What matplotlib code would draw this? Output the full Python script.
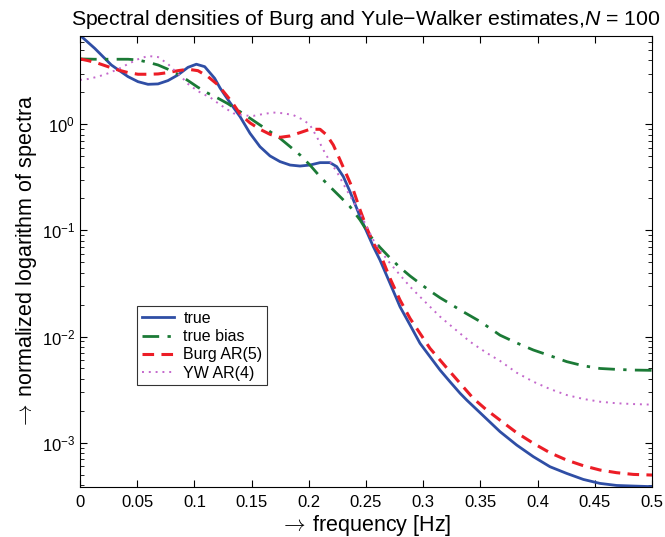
import matplotlib
matplotlib.use('Agg')
import matplotlib.pyplot as plt
from matplotlib.ticker import FixedLocator, FormatStrFormatter, LogLocator

plt.rcParams['font.family'] = ['Liberation Sans', 'DejaVu Sans']
plt.rcParams['mathtext.fontset'] = 'custom'
plt.rcParams['mathtext.rm'] = 'Liberation Sans'
plt.rcParams['mathtext.it'] = 'Liberation Sans:italic'

# Values.
x_true = [0.0, 0.0128, 0.0274, 0.042, 0.0507, 0.0594, 0.0682, 0.0769, 0.0857, 0.0944,
          0.1017, 0.109, 0.1177, 0.1224, 0.1265, 0.1311, 0.1399, 0.1486, 0.1573, 0.1661,
          0.1748, 0.1836, 0.1923, 0.201, 0.2098, 0.2185, 0.2244, 0.2302, 0.236, 0.2448,
          0.2506, 0.2564, 0.2622, 0.271, 0.2797, 0.2885, 0.2972, 0.3059, 0.3147, 0.3234,
          0.3322, 0.338, 0.35, 0.3671, 0.3817, 0.3963, 0.4108, 0.4254, 0.44, 0.4545,
          0.4691, 0.4837, 0.5]
y_true = [6.9, 5.2, 3.62, 2.81, 2.52, 2.38, 2.40, 2.58, 2.92, 3.44,
          3.68, 3.49, 2.71, 2.2, 1.89, 1.6, 1.18, 0.822, 0.615, 0.503,
          0.445, 0.413, 0.404, 0.413, 0.435, 0.435, 0.399, 0.321, 0.232, 0.135,
          0.0973, 0.0703, 0.0526, 0.0317, 0.0191, 0.01284, 0.00863, 0.00646, 0.00483, 0.00375,
          0.00292, 0.00252, 0.0019, 0.00127, 9.49e-4, 7.37e-4, 5.93e-4, 5.13e-4, 4.5e-4, 4.13e-4,
          3.95e-4, 3.9e-4, 3.85e-4]

x_bias = [0.0, 0.0128, 0.0274, 0.042, 0.0507, 0.0594, 0.0682, 0.0769, 0.0857, 0.0944,
          0.1031, 0.1119, 0.1206, 0.1294, 0.1399, 0.1486, 0.1573, 0.1661, 0.1748, 0.1836,
          0.1923, 0.201, 0.2098, 0.2185, 0.2273, 0.236, 0.2448, 0.2535, 0.2622, 0.271,
          0.2797, 0.2885, 0.2972, 0.3059, 0.3147, 0.3234, 0.3322, 0.35, 0.3671, 0.3817,
          0.3963, 0.4108, 0.4254, 0.44, 0.4545, 0.4691, 0.4837, 0.5]
y_bias = [4.13, 4.1, 4.1, 4.1, 4.04, 3.84, 3.62, 3.30, 2.96, 2.58,
          2.23, 1.96, 1.76, 1.56, 1.315, 1.14, 0.985, 0.852, 0.738, 0.616,
          0.514, 0.413, 0.321, 0.258, 0.208, 0.1675, 0.1253, 0.089, 0.0692, 0.055,
          0.0447, 0.0372, 0.0316, 0.0269, 0.0232, 0.0204, 0.0178, 0.0138, 0.0103, 0.0087,
          0.00746, 0.0066, 0.0058, 0.0053, 0.005, 0.0049, 0.00483, 0.0048]

x_burg = [0.0, 0.007, 0.0157, 0.0245, 0.0332, 0.042, 0.0507, 0.0594, 0.0682, 0.0769,
          0.0857, 0.0944, 0.1031, 0.1119, 0.1206, 0.1294, 0.134, 0.1399, 0.1486, 0.1573,
          0.1661, 0.1748, 0.1836, 0.1923, 0.201, 0.2098, 0.2156, 0.2214, 0.2273, 0.2331,
          0.2389, 0.2448, 0.2506, 0.2564, 0.2622, 0.271, 0.2797, 0.2885, 0.2972, 0.3059,
          0.3147, 0.3234, 0.3322, 0.3438, 0.355, 0.3671, 0.3817, 0.3963, 0.4108, 0.4254,
          0.44, 0.4545, 0.4691, 0.4837, 0.5]
y_burg = [4.13, 3.98, 3.76, 3.49, 3.25, 3.07, 2.96, 2.96, 2.98, 3.07,
          3.20, 3.30, 3.20, 2.81, 2.35, 1.8, 1.55, 1.25, 1.03, 0.897,
          0.804, 0.753, 0.776, 0.834, 0.897, 0.897, 0.793, 0.638, 0.461, 0.333,
          0.240, 0.156, 0.106, 0.0755, 0.0608, 0.0353, 0.0221, 0.0148, 0.0107, 0.00774,
          0.006, 0.00466, 0.00363, 0.00261, 0.00205, 0.00163, 0.00124, 9.85e-4, 8.03e-4, 6.85e-4,
          6.06e-4, 5.52e-4, 5.21e-4, 5.02e-4, 4.95e-4]

x_yw = [0.0, 0.007, 0.0157, 0.0245, 0.0332, 0.042, 0.0507, 0.0594, 0.0682, 0.0769,
        0.0828, 0.0886, 0.0944, 0.1031, 0.1148, 0.1206, 0.1265, 0.134, 0.1428, 0.1515,
        0.1603, 0.169, 0.1777, 0.1865, 0.1952, 0.201, 0.2069, 0.2127, 0.2185, 0.2244,
        0.2331, 0.2448, 0.2564, 0.2622, 0.271, 0.2797, 0.2885, 0.2972, 0.3059, 0.3147,
        0.3234, 0.3322, 0.3409, 0.3497, 0.3584, 0.3671, 0.3817, 0.3963, 0.4108, 0.4254,
        0.44, 0.4545, 0.4691, 0.4837, 0.5]
y_yw = [2.62, 2.67, 2.81, 3.02, 3.30, 3.70, 4.10, 4.40, 4.30, 3.7,
        3.2, 2.8, 2.4, 2.05, 1.76, 1.58, 1.43, 1.27, 1.21, 1.20,
        1.25, 1.29, 1.27, 1.22, 1.10, 0.985, 0.765, 0.573, 0.445, 0.358,
        0.24, 0.145, 0.0812, 0.065, 0.049, 0.038, 0.0295, 0.0237, 0.0191, 0.0154,
        0.01284, 0.0107, 0.00894, 0.0077, 0.0067, 0.0059, 0.00456, 0.00375, 0.0032, 0.00281,
        0.00258, 0.00243, 0.00235, 0.00231, 0.00228]

x_ticks = [0, 0.05, 0.1, 0.15, 0.2, 0.25, 0.3, 0.35, 0.4, 0.45, 0.5]

fig = plt.figure(figsize=(6.65, 5.37), dpi=100)
ax = fig.add_axes([0.1203, 0.0931, 0.8602, 0.8399])

ax.plot(x_true, y_true, color='#2f4ea5', lw=2.0, label='true')
ax.plot(x_bias, y_bias, color='#1b7a36', lw=2.0, ls=(0, (6, 3, 1.2, 3)), label='true bias')
ax.plot(x_burg, y_burg, color='#ec1d26', lw=2.2, ls=(0, (3.8, 2.4)), label='Burg AR(5)')
ax.plot(x_yw, y_yw, color='#c468cc', lw=1.4, ls=(0, (1, 2.5)), label='YW AR(4)')

ax.set_yscale('log')
ax.set_xlim(0, 0.5)
ax.set_ylim(10 ** -3.418, 10 ** 0.832)
ax.xaxis.set_major_locator(FixedLocator(x_ticks))
ax.xaxis.set_major_formatter(FormatStrFormatter('%g'))
ax.yaxis.set_major_locator(LogLocator(base=10))
ax.yaxis.set_minor_locator(LogLocator(base=10, subs=range(2, 10)))
ax.tick_params(which='both', direction='in', top=True, right=True, labelsize=12)
ax.tick_params(which='major', length=5, width=0.8)
ax.tick_params(which='minor', length=3, width=0.6)
ax.tick_params(axis='x', pad=6)

ax.set_xlabel(r'$\rightarrow\,$frequency [Hz]', fontsize=15.5, labelpad=2,
              math_fontfamily='cm')
ax.set_ylabel(r'$\rightarrow\,$normalized logarithm of spectra', fontsize=15.5,
              labelpad=2, math_fontfamily='cm')
ax.set_title('Spectral densities of Burg and Yule\u2212Walker estimates,$N$ = 100',
             fontsize=15.3, pad=8)

leg = ax.legend(loc='upper left', bbox_to_anchor=(0.0997, 0.401), borderaxespad=0,
                fontsize=11.5, frameon=True, fancybox=False, edgecolor='black',
                borderpad=0.3, labelspacing=0.2, handlelength=2.0, handletextpad=0.6)
leg.get_frame().set_linewidth(0.8)

fig.savefig('out.png', dpi=100)
